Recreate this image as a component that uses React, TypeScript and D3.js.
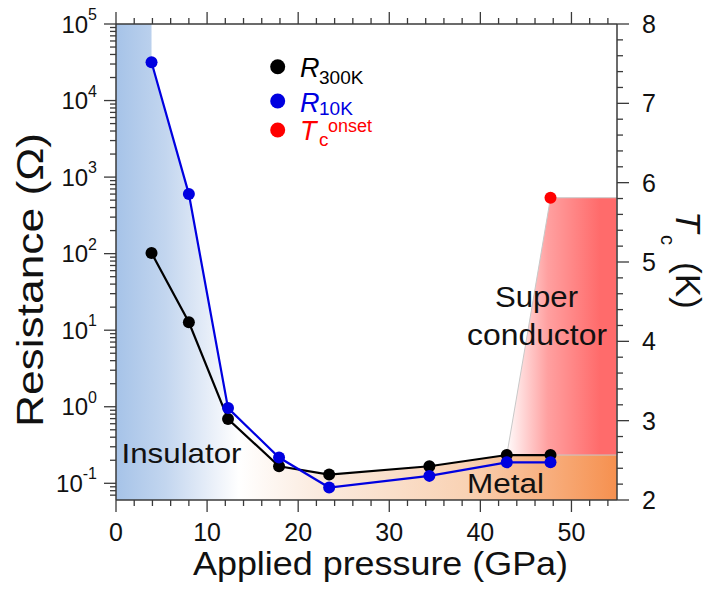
import React from 'react';
import * as d3 from 'd3';

// ---- data ----
const pressure = [3.9, 8.0, 12.3, 17.9, 23.4, 34.4, 42.9, 47.7];
const r300K = [102, 12.7, 0.69, 0.167, 0.13, 0.167, 0.234, 0.234];
const r10K = [31600, 600, 0.96, 0.217, 0.088, 0.125, 0.188, 0.188];
const tcPressure = [47.7];
const tcOnset = [5.81];
const xTickValues = [0, 10, 20, 30, 40, 50];
const rDecades = [-1, 0, 1, 2, 3, 4, 5];
const tcTickValues = [2, 3, 4, 5, 6, 7, 8];
// boundary of insulating phase follows R10K for the first points, then R300K
const insulatorBoundaryCount = 3;

const W = 708, H = 589;
const M = { left: 116, right: 617, top: 24, bottom: 500 };

const FONT = "'Liberation Sans', Arial, Helvetica, sans-serif";
const AXIS = '#3a3a3a';

export default function App() {
  const x = d3.scaleLinear().domain([0, 55]).range([M.left, M.right]);
  const yR = d3.scaleLog().domain([0.0605, 1e5]).range([M.bottom, M.top]);
  const yT = d3.scaleLinear().domain([2, 8]).range([M.bottom, M.top]);

  const xMinor = d3.range(0, 55.01, 2).filter((v) => v % 10 !== 0);
  const rMinor: number[] = [];
  for (let d = -2; d <= 4; d++) {
    for (let k = 2; k <= 9; k++) {
      const v = k * Math.pow(10, d);
      if (v >= 0.0605 && v <= 1e5) rMinor.push(v);
    }
  }
  const tMinor = d3.range(2, 8.001, 0.2).filter((v) => Math.abs(v - Math.round(v)) > 0.01);

  const line = d3
    .line<[number, number]>()
    .x((d) => x(d[0]))
    .y((d) => yR(d[1]));

  const pts300 = pressure.map((p, i) => [p, r300K[i]] as [number, number]);
  const pts10 = pressure.map((p, i) => [p, r10K[i]] as [number, number]);

  // phase area (insulator -> metal) path
  const boundary: [number, number][] = [];
  for (let i = 0; i < pressure.length - 1; i++) {
    boundary.push([x(pressure[i]), yR(i < insulatorBoundaryCount ? r10K[i] : r300K[i])]);
  }
  const lastR = r300K[pressure.length - 2];
  const phasePts: [number, number][] = [
    [x(0), yR(1e5)],
    [x(pressure[0]), yR(1e5)],
    ...boundary,
    [x(55), yR(lastR)],
    [x(55), yR(0.0605)],
    [x(0), yR(0.0605)],
  ];
  const phasePath = 'M' + phasePts.map((p) => p.join(',')).join('L') + 'Z';

  const scPts: [number, number][] = [
    [x(pressure[6]), yR(lastR)],
    [x(tcPressure[0]), yT(tcOnset[0])],
    [x(55), yT(tcOnset[0])],
    [x(55), yR(lastR)],
  ];
  const scPath = 'M' + scPts.map((p) => p.join(',')).join('L') + 'Z';

  return (
    <svg
      width={W}
      height={H}
      style={{ position: 'absolute', left: 0, top: 0, background: '#fff' }}
      fontFamily={FONT}
    >
      <defs>
        <linearGradient id="phaseGrad" gradientUnits="userSpaceOnUse" x1={M.left} x2={M.right} y1={0} y2={0}>
          <stop offset="0" stopColor="#a6c3e8" />
          <stop offset="0.1" stopColor="#c3d6ef" />
          <stop offset="0.2" stopColor="#edf2fa" />
          <stop offset="0.245" stopColor="#ffffff" />
          <stop offset="0.4" stopColor="#fbebdf" />
          <stop offset="0.7" stopColor="#f9d2b4" />
          <stop offset="1" stopColor="#f6904f" />
        </linearGradient>
        <linearGradient id="scGrad" gradientUnits="userSpaceOnUse" x1={505} x2={600} y1={0} y2={0}>
          <stop offset="0" stopColor="#ffffff" />
          <stop offset="0.45" stopColor="#ffa0a0" />
          <stop offset="1" stopColor="#ff6b6b" />
        </linearGradient>
      </defs>

      {/* phase regions */}
      <path d={phasePath} fill="url(#phaseGrad)" />
      <path d={scPath} fill="url(#scGrad)" stroke="#c8c8c8" strokeWidth={1} />

      {/* region labels */}
      <text x={121.5} y={463} fontSize={28} textLength={120} lengthAdjust="spacingAndGlyphs" fill="#111">
        Insulator
      </text>
      <text x={467} y={493} fontSize={27} textLength={77} lengthAdjust="spacingAndGlyphs" fill="#111">
        Metal
      </text>
      <text x={495} y={307} fontSize={29} textLength={83} lengthAdjust="spacingAndGlyphs" fill="#111">
        Super
      </text>
      <text x={467} y={345} fontSize={29} textLength={140} lengthAdjust="spacingAndGlyphs" fill="#111">
        conductor
      </text>

      {/* data lines */}
      <path d={line(pts300) || ''} fill="none" stroke="#000" strokeWidth={2.2} />
      {pts300.map((d, i) => (
        <circle key={'b' + i} cx={x(d[0])} cy={yR(d[1])} r={6} fill="#000" />
      ))}
      <path d={line(pts10) || ''} fill="none" stroke="#0000e0" strokeWidth={2.2} />
      {pts10.map((d, i) => (
        <circle key={'u' + i} cx={x(d[0])} cy={yR(d[1])} r={6} fill="#0000e0" />
      ))}
      {tcPressure.map((p, i) => (
        <circle key={'r' + i} cx={x(p)} cy={yT(tcOnset[i])} r={6} fill="#ff0000" />
      ))}

      {/* axes frame */}
      <g stroke={AXIS} strokeWidth={1.5} fill="none">
        <line x1={M.left} x2={M.right} y1={M.bottom} y2={M.bottom} />
        <line x1={M.left} x2={M.right} y1={M.top} y2={M.top} />
        <line x1={M.left} x2={M.left} y1={M.top} y2={M.bottom} />
        <line x1={M.right} x2={M.right} y1={M.top} y2={M.bottom} />
      </g>
      <g stroke={AXIS} strokeWidth={1.3}>
        {xTickValues.map((v) => (
          <g key={'xt' + v}>
            <line x1={x(v)} x2={x(v)} y1={M.bottom} y2={M.bottom + 12} />
            <line x1={x(v)} x2={x(v)} y1={M.top} y2={M.top - 12} />
          </g>
        ))}
        {xMinor.map((v) => (
          <g key={'xm' + v}>
            <line x1={x(v)} x2={x(v)} y1={M.bottom} y2={M.bottom + 6} />
            <line x1={x(v)} x2={x(v)} y1={M.top} y2={M.top - 6} />
          </g>
        ))}
        {rDecades.map((d) => (
          <line key={'rt' + d} x1={M.left} x2={M.left - 12} y1={yR(Math.pow(10, d))} y2={yR(Math.pow(10, d))} />
        ))}
        {rMinor.map((v, i) => (
          <line key={'rm' + i} x1={M.left} x2={M.left - 6} y1={yR(v)} y2={yR(v)} />
        ))}
        {tcTickValues.map((v) => (
          <line key={'tt' + v} x1={M.right} x2={M.right + 12} y1={yT(v)} y2={yT(v)} />
        ))}
        {tMinor.map((v, i) => (
          <line key={'tm' + i} x1={M.right} x2={M.right + 6} y1={yT(v)} y2={yT(v)} />
        ))}
      </g>

      {/* tick labels */}
      {xTickValues.map((v) => (
        <text key={'xl' + v} x={x(v)} y={541} fontSize={25} textAnchor="middle" fill="#111">
          {v}
        </text>
      ))}
      {rDecades.map((d) => (
        <text key={'rl' + d} x={97} y={yR(Math.pow(10, d)) + 8.6} fontSize={24} textAnchor="end" fill="#111">
          10
          <tspan fontSize={16} dy={-12.6}>
            {String(d)}
          </tspan>
        </text>
      ))}
      {tcTickValues.map((v) => (
        <text key={'tl' + v} x={642} y={yT(v) + 9} fontSize={25} fill="#111">
          {v}
        </text>
      ))}

      {/* axis titles */}
      <text x={380.5} y={575} fontSize={33} textAnchor="middle" textLength={375} lengthAdjust="spacingAndGlyphs" fill="#111">
        Applied pressure (GPa)
      </text>
      <text
        transform="translate(43,280) rotate(-90)"
        fontSize={36}
        textAnchor="middle"
        textLength={294}
        lengthAdjust="spacingAndGlyphs"
        fill="#111"
      >
        Resistance (Ω)
      </text>
      <g transform="translate(676,211) rotate(90)" fill="#111">
        <text x={0} y={0} fontSize={35} fontStyle="italic">
          T
        </text>
        <text x={24} y={15} fontSize={20}>
          c
        </text>
        <text x={51} y={0} fontSize={35}>
          (K)
        </text>
      </g>

      {/* legend */}
      <circle cx={277.7} cy={66.7} r={7.5} fill="#000" />
      <circle cx={277.7} cy={101} r={7.5} fill="#0000e0" />
      <circle cx={277.7} cy={130} r={7.5} fill="#ff0000" />
      <text x={300} y={77} fontSize={27} fontStyle="italic" fill="#000">R</text>
      <text x={319} y={83.5} fontSize={19} fill="#000">300K</text>
      <text x={300} y={111.5} fontSize={27} fontStyle="italic" fill="#0000e0">R</text>
      <text x={319} y={115} fontSize={19} fill="#0000e0">10K</text>
      <text x={300} y={140} fontSize={27} fontStyle="italic" fill="#ff0000">T</text>
      <text x={319} y={146} fontSize={19} fill="#ff0000">c</text>
      <text x={328} y={131.5} fontSize={18} fill="#ff0000">onset</text>
    </svg>
  );
}
